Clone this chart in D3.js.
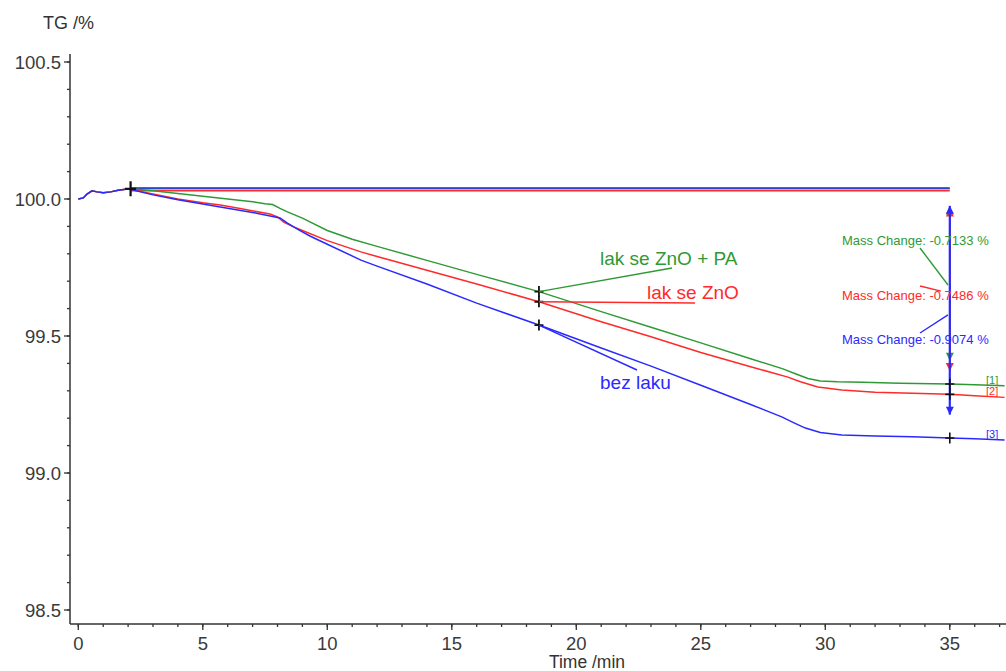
<html>
<head>
<meta charset="utf-8">
<script src="https://cdn.jsdelivr.net/npm/d3@7"></script>
<style>
  body { margin: 0; background: #fff; }
  text { font-family: "Liberation Sans", Arial, sans-serif; }
</style>
</head>
<body>
<svg id="chart" width="1006" height="671"></svg>

<script>
// common start of all three runs (0 - 2.1 min)
var startTime = [0, 0.2, 0.35, 0.55, 0.75, 1.0, 1.3, 1.6, 1.9, 2.1];
var startTG   = [100.0, 100.004, 100.018, 100.030, 100.026, 100.023, 100.026, 100.032, 100.036, 100.037];

// [1] lak se ZnO + PA
var greenTime = [2.1, 3, 4, 5, 6, 7, 7.5, 7.8, 8.1, 8.4, 9, 10, 11, 12, 14, 16, 18.5, 21, 23, 25, 27, 28.3, 28.8, 29.3, 29.8, 30.5, 31.5, 33, 35, 36, 37.2];
var greenTG   = [100.037, 100.03, 100.02, 100.01, 100.0, 99.99, 99.983, 99.98, 99.966, 99.953, 99.93, 99.885, 99.853, 99.827, 99.776, 99.725, 99.662, 99.589, 99.532, 99.475, 99.417, 99.38, 99.362, 99.345, 99.336, 99.333, 99.331, 99.328, 99.325, 99.322, 99.318];

// [2] lak se ZnO
var redTime = [2.1, 3, 4, 5, 5.7, 6.5, 7.7, 8.0, 8.25, 8.6, 9, 10, 11.35, 12, 14, 16, 18.5, 21, 23, 25, 27, 28.5, 29, 29.7, 30.66, 32, 35, 36, 37.2];
var redTG   = [100.035, 100.018, 100.0, 99.986, 99.978, 99.965, 99.945, 99.935, 99.916, 99.9, 99.885, 99.848, 99.807, 99.79, 99.74, 99.69, 99.625, 99.552, 99.497, 99.44, 99.388, 99.35, 99.333, 99.314, 99.303, 99.295, 99.287, 99.282, 99.276];

// [3] bez laku
var blueTime = [2.1, 3, 4, 5, 5.7, 7, 8.1, 8.4, 8.8, 9.3, 10, 11.35, 12, 14, 16, 18.5, 21, 23, 25, 27, 28.25, 28.7, 29.2, 29.8, 30.66, 32, 33.5, 35, 36, 37.2];
var blueTG   = [100.035, 100.015, 99.997, 99.982, 99.971, 99.951, 99.931, 99.912, 99.89, 99.865, 99.835, 99.777, 99.755, 99.69, 99.62, 99.54, 99.456, 99.39, 99.32, 99.25, 99.205, 99.185, 99.164, 99.148, 99.139, 99.135, 99.132, 99.128, 99.125, 99.12];

var seriesNames  = ["lak se ZnO + PA", "lak se ZnO", "bez laku"];
var seriesTags   = ["[1]", "[2]", "[3]"];
var seriesColors = ["#2f9a35", "#ff2a2a", "#2a2aff"];
var refLevel     = [100.038, 100.030, 100.040];   // flat reference lines
var massChange   = ["-0.7133", "-0.7486", "-0.9074"];
var markTime     = [2.1, 18.5, 35];
var xTicks = [0, 5, 10, 15, 20, 25, 30, 35];
var yTicks = [98.5, 99.0, 99.5, 100.0, 100.5];

var svg = d3.select("#chart");
var x = d3.scaleLinear().domain([0, 35]).range([78.3, 949.8]);
var y = d3.scaleLinear().domain([98.5, 100.5]).range([610, 62]);
var x0 = 70, xEnd = 1006, yTop = 54, yBot = 624;

var series = [
  {t: greenTime, v: greenTG},
  {t: redTime,   v: redTG},
  {t: blueTime,  v: blueTG}
].map(function(s, i) {
  return {
    name: seriesNames[i], tag: seriesTags[i], color: seriesColors[i],
    ref: refLevel[i], mc: massChange[i],
    pts: d3.zip(s.t, s.v)
  };
});
var startPts = d3.zip(startTime, startTG);

// axes
var axisColor = "#333";
var ax = svg.append("g");
ax.append("line").attr("x1", x0).attr("x2", x0).attr("y1", yTop).attr("y2", yBot)
  .attr("stroke", axisColor).attr("stroke-width", 1.5);
ax.append("line").attr("x1", x0).attr("x2", xEnd).attr("y1", yBot).attr("y2", yBot)
  .attr("stroke", axisColor).attr("stroke-width", 1.5);

var yMinor = d3.range(985, 1006).map(d => d / 10);
ax.selectAll(".ymin").data(yMinor).enter().append("line")
  .attr("x1", x0 - 3).attr("x2", x0).attr("y1", d => y(d)).attr("y2", d => y(d))
  .attr("stroke", axisColor).attr("stroke-width", 1.3);
ax.selectAll(".ymaj").data(yTicks).enter().append("line")
  .attr("x1", x0 - 6).attr("x2", x0).attr("y1", d => y(d)).attr("y2", d => y(d))
  .attr("stroke", axisColor).attr("stroke-width", 1.3);
ax.selectAll(".ylab").data(yTicks).enter().append("text")
  .attr("x", x0 - 9).attr("y", d => y(d) + 6.5)
  .attr("text-anchor", "end").attr("font-size", 18.5).attr("fill", "#3a3a3a")
  .text(d => d.toFixed(1));

var xMinor = d3.range(0, 38);
ax.selectAll(".xmin").data(xMinor).enter().append("line")
  .attr("x1", d => x(d)).attr("x2", d => x(d)).attr("y1", yBot).attr("y2", yBot + 3)
  .attr("stroke", axisColor).attr("stroke-width", 1.3);
ax.selectAll(".xmaj").data(xTicks).enter().append("line")
  .attr("x1", d => x(d)).attr("x2", d => x(d)).attr("y1", yBot).attr("y2", yBot + 6)
  .attr("stroke", axisColor).attr("stroke-width", 1.3);
ax.selectAll(".xlab").data(xTicks).enter().append("text")
  .attr("x", d => x(d)).attr("y", yBot + 26)
  .attr("text-anchor", "middle").attr("font-size", 18.5).attr("fill", "#3a3a3a")
  .text(d => d);

svg.append("text").attr("x", 43).attr("y", 29).attr("font-size", 18)
  .attr("fill", "#333").text("TG /%");
svg.append("text").attr("x", 587).attr("y", 668).attr("text-anchor", "middle")
  .attr("font-size", 17.5).attr("fill", "#333").text("Time /min");

// arrow heads
var defs = svg.append("defs");
series.forEach(function(s, i) {
  defs.append("marker").attr("id", "ah" + i)
    .attr("viewBox", "0 0 10 10").attr("refX", 10).attr("refY", 5)
    .attr("markerWidth", 10).attr("markerHeight", 8).attr("markerUnits", "userSpaceOnUse")
    .attr("orient", "auto-start-reverse")
    .append("path").attr("d", "M0,0 L10,5 L0,10 Z").attr("fill", s.color);
});

var line = d3.line().x(d => x(d[0])).y(d => y(d[1]));
var plot = svg.append("g");

// flat reference lines
series.forEach(function(s) {
  plot.append("line")
    .attr("x1", x(markTime[0])).attr("x2", x(35))
    .attr("y1", y(s.ref)).attr("y2", y(s.ref))
    .attr("stroke", s.color).attr("stroke-width", 1.6);
});

// curves
series.forEach(function(s) {
  plot.append("path").datum(startPts.concat(s.pts))
    .attr("d", line).attr("fill", "none")
    .attr("stroke", s.color).attr("stroke-width", 1.5);
});

// vertical mass-change arrows at 35 min
function valueAt(s, t) {
  var ts = s.pts.map(p => p[0]), vs = s.pts.map(p => p[1]);
  var i = d3.bisectLeft(ts, t);
  if (ts[i] === t) return vs[i];
  var a = s.pts[i - 1], b = s.pts[i];
  return a[1] + (b[1] - a[1]) * (t - a[0]) / (b[0] - a[0]);
}
series.forEach(function(s, i) {
  plot.append("line")
    .attr("x1", x(35)).attr("x2", x(35))
    .attr("y1", y(s.ref - 0.065)).attr("y2", y(valueAt(s, 35) + 0.085))
    .attr("stroke", s.color).attr("stroke-width", i === 2 ? 2.2 : 1.6)
    .attr("marker-start", "url(#ah" + i + ")")
    .attr("marker-end", "url(#ah" + i + ")");
});

// cross markers
function cross(cx, cy, w, h, sw) {
  plot.append("path")
    .attr("d", "M" + (cx - w / 2) + "," + cy + "H" + (cx + w / 2) + "M" + cx + "," + (cy - h / 2) + "V" + (cy + h / 2))
    .attr("stroke", "#111").attr("stroke-width", sw).attr("fill", "none");
}
cross(x(markTime[0]), y(startTG[startTG.length - 1]), 11, 15, 2.2);
series.forEach(function(s) {
  cross(x(markTime[1]), y(valueAt(s, markTime[1])), 9, 11, 1.8);
  cross(x(markTime[2]), y(valueAt(s, markTime[2])), 9, 11, 1.6);
});

// mass change labels
var mcY = [245, 300, 344];
var mcLead = [[920, 248, 948, y(99.686)], [920, 286, 941, y(99.664)], [920, 333, 948, y(99.577)]];
series.forEach(function(s, i) {
  plot.append("line")
    .attr("x1", mcLead[i][0]).attr("y1", mcLead[i][1])
    .attr("x2", mcLead[i][2]).attr("y2", mcLead[i][3])
    .attr("stroke", s.color).attr("stroke-width", 1.4);
  plot.append("text").attr("x", 842).attr("y", mcY[i])
    .attr("font-size", 13).attr("fill", s.color)
    .text("Mass Change: " + s.mc + " %");
});

// curve name labels
var nameXY = [[600, 265, 672, 268], [647, 299, 695, 303], [600, 389, 637, 370]];
series.forEach(function(s, i) {
  var p = nameXY[i];
  plot.append("line")
    .attr("x1", x(markTime[1])).attr("y1", y(valueAt(s, markTime[1])))
    .attr("x2", p[2]).attr("y2", p[3])
    .attr("stroke", s.color).attr("stroke-width", 1.4);
  plot.append("text").attr("x", p[0]).attr("y", p[1])
    .attr("font-size", 19).attr("fill", s.color).text(s.name);
});

// end tags
series.forEach(function(s) {
  var last = s.pts[s.pts.length - 1];
  plot.append("text").attr("x", 986).attr("y", y(last[1]) - 2)
    .attr("font-size", 11).attr("fill", s.color).text(s.tag);
});
</script>
</body>
</html>
